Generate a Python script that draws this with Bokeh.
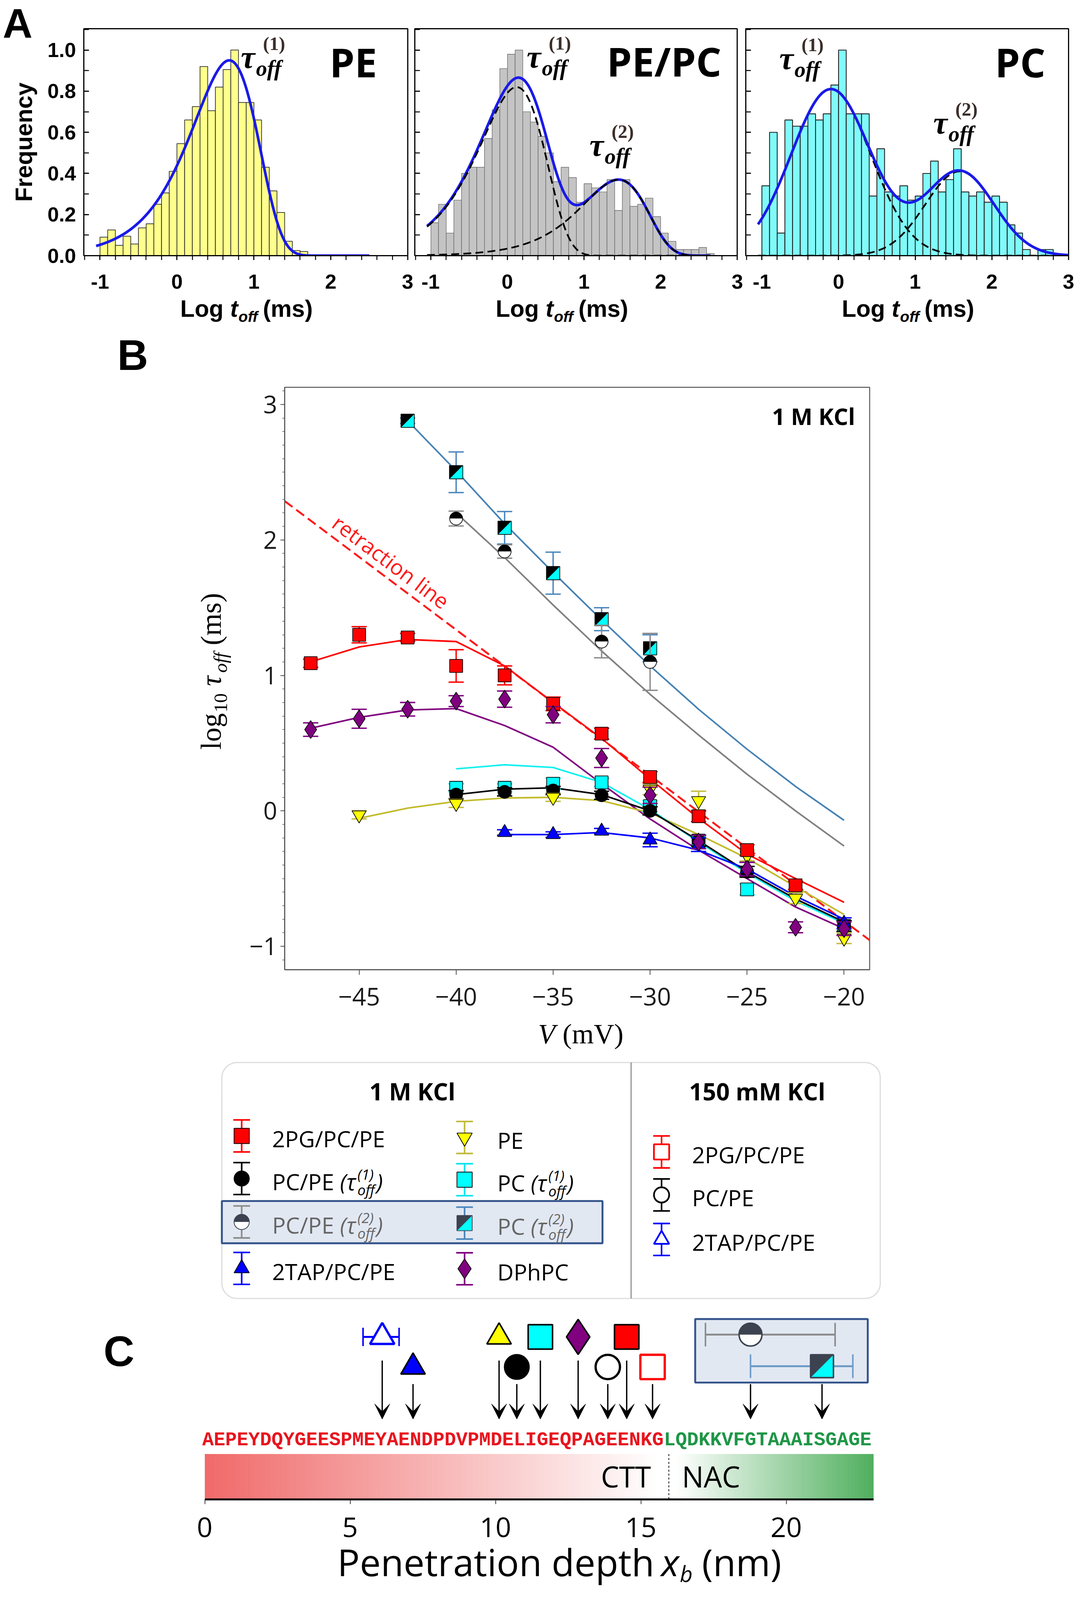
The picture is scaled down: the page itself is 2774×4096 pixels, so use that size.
import numpy as np
from bokeh.plotting import figure
from bokeh.layouts import column, row
from bokeh.models import (Range1d, SingleIntervalTicker, FixedTicker, Label, BoxAnnotation,
                          Arrow, VeeHead, NumeralTickFormatter, ColumnDataSource)
from bokeh.embed import file_html
from bokeh.resources import INLINE

S = 0.975
OFF = 8.0 / S
REF_W, REF_H = 2844.0, 4200.0

# ======================= DATA =======================
# ---- Panel A: normalised histograms, bins of 0.1 starting at -1.0 ----
hist_start = -1.0
hist_width = 0.1
pe_freq = [0.09, 0.125, 0.05, 0.095, 0.057, 0.135, 0.155, 0.25, 0.305, 0.41,
           0.545, 0.66, 0.725, 0.92, 0.705, 0.82, 0.905, 1.0, 0.745, 0.745,
           0.66, 0.43, 0.315, 0.21, 0.07, 0.025, 0.02]
pepc_freq = [0.16, 0.25, 0.11, 0.27, 0.40, 0.43, 0.43, 0.57, 0.71, 0.91,
             0.98, 1.00, 0.70, 0.65, 0.58, 0.50, 0.36, 0.43, 0.38, 0.26,
             0.35, 0.33, 0.31, 0.37, 0.22, 0.37, 0.24, 0.25, 0.28, 0.19,
             0.11, 0.07, 0.03, 0.03, 0.03, 0.04, 0.01]
pc_freq = [0.34, 0.60, 0.11, 0.66, 0.63, 0.63, 0.69, 0.66, 0.69, 0.83,
           1.00, 0.69, 0.69, 0.69, 0.29, 0.52, 0.31, 0.29, 0.34, 0.27,
           0.29, 0.40, 0.46, 0.31, 0.37, 0.52, 0.31, 0.29, 0.31, 0.26,
           0.29, 0.26, 0.15, 0.11, 0.03, 0.0, 0.03, 0.03]
# fitted components: (shape, centre, amplitude, width)
pe_fit = [("logexp", 0.68, 0.95, 0.0)]
pepc_fit = [("logexp", 0.12, 0.82, 0.0), ("logexp", 1.45, 0.37, 0.0)]
pc_fit = [("gauss", -0.10, 0.81, 0.52), ("gauss", 1.58, 0.41, 0.45)]
pe_span, pepc_span, pc_span = (-1.05, 2.5), (-1.05, 2.65), (-1.05, 3.0)
a_xticks = [-1, 0, 1, 2, 3]

# ---- Panel B: log10 tau_off vs V ----
pg_v = [-47.5, -45, -42.5, -40, -37.5, -35, -32.5, -30, -27.5, -25, -22.5]
pg_y = [1.09, 1.30, 1.28, 1.07, 1.00, 0.79, 0.57, 0.25, -0.04, -0.29, -0.55]
pg_e = [0.03, 0.06, 0.03, 0.12, 0.07, 0.05, 0.04, 0.04, 0.04, 0.04, 0.03]
dph_v = [-47.5, -45, -42.5, -40, -37.5, -35, -32.5, -30, -27.5, -25, -22.5, -20]
dph_y = [0.60, 0.68, 0.75, 0.81, 0.825, 0.71, 0.39, 0.115, -0.23, -0.43, -0.86, -0.87]
dph_e = [0.05, 0.07, 0.05, 0.04, 0.06, 0.06, 0.07, 0.06, 0.05, 0.05, 0.04, 0.05]
pe_v = [-45, -40, -35, -30, -27.5, -25, -22.5, -20]
pe_y = [-0.03, 0.055, 0.10, 0.16, 0.075, -0.33, -0.645, -0.94]
pe_e = [0.03, 0.03, 0.03, 0.04, 0.07, 0.04, 0.04, 0.04]
pc1_v = [-40, -37.5, -35, -32.5, -30, -27.5, -25, -20]
pc1_y = [0.17, 0.17, 0.20, 0.21, 0.035, -0.22, -0.58, -0.85]
pc1_e = [0.03, 0.03, 0.04, 0.03, 0.04, 0.04, 0.04, 0.04]
pcpe1_v = [-40, -37.5, -35, -32.5, -30, -27.5, -25, -20]
pcpe1_y = [0.12, 0.14, 0.15, 0.115, 0.0, -0.22, -0.45, -0.85]
pcpe1_e = [0.03, 0.03, 0.03, 0.03, 0.03, 0.04, 0.04, 0.04]
tap_v = [-37.5, -35, -32.5, -30, -27.5, -25, -20]
tap_y = [-0.16, -0.175, -0.15, -0.215, -0.25, -0.43, -0.83]
tap_e = [0.02, 0.02, 0.02, 0.05, 0.05, 0.05, 0.04]
pc2_v = [-42.5, -40, -37.5, -35, -32.5, -30]
pc2_y = [2.88, 2.50, 2.09, 1.755, 1.415, 1.20]
pc2_e = [0.02, 0.15, 0.12, 0.155, 0.085, 0.10]
pcpe2_v = [-40, -37.5, -32.5, -30]
pcpe2_y = [2.158, 1.915, 1.25, 1.10]
pcpe2_e = [0.055, 0.05, 0.12, 0.21]
# fit curves
fit_pg_v = [-47.5, -45, -42.5, -40, -37.5, -35, -32.5, -30, -27.5, -25, -22.5, -20]
fit_pg_y = [1.10, 1.21, 1.265, 1.25, 1.07, 0.80, 0.535, 0.235, -0.055, -0.32, -0.50, -0.675]
fit_dph_v = [-47.5, -45, -42.5, -40, -37.5, -35, -32.5, -30, -27.5, -25, -22.5, -20]
fit_dph_y = [0.61, 0.69, 0.745, 0.755, 0.63, 0.47, 0.20, -0.06, -0.29, -0.50, -0.71, -0.87]
fit_pc2_v = [-42.5, -40, -37.5, -35, -32.5, -30, -27.5, -25, -22.5, -20]
fit_pc2_y = [2.88, 2.51, 2.12, 1.76, 1.41, 1.07, 0.75, 0.455, 0.18, -0.07]
fit_pcpe2_v = [-40, -37.5, -35, -32.5, -30, -27.5, -25, -22.5, -20]
fit_pcpe2_y = [2.20, 1.87, 1.52, 1.18, 0.86, 0.56, 0.27, 0.0, -0.26]
fit_pc1_v = [-40, -37.5, -35, -32.5, -30, -27.5, -25, -22.5, -20]
fit_pc1_y = [0.31, 0.34, 0.32, 0.21, 0.01, -0.23, -0.46, -0.665, -0.83]
fit_pcpe1_v = [-40, -37.5, -35, -32.5, -30, -27.5, -25, -22.5, -20]
fit_pcpe1_y = [0.12, 0.16, 0.17, 0.12, 0.0, -0.22, -0.45, -0.65, -0.82]
fit_pe_v = [-45, -42.5, -40, -37.5, -35, -32.5, -30, -27.5, -25, -22.5, -20]
fit_pe_y = [-0.055, 0.02, 0.07, 0.095, 0.10, 0.075, -0.015, -0.175, -0.35, -0.56, -0.765]
fit_tap_v = [-37.5, -35, -32.5, -30, -27.5, -25, -22.5, -20]
fit_tap_y = [-0.175, -0.175, -0.16, -0.20, -0.29, -0.43, -0.63, -0.80]
retract_v = [-48.84, -18.68]
retract_y = [2.287, -0.955]
b_xticks = [-45, -40, -35, -30, -25, -20]
b_yticks = [-1, 0, 1, 2, 3]

# ---- Legend ----
leg1_kind = ["2pg", "pcpe1", "pcpe2", "tap", "pe", "pc1", "pc2", "dph"]
leg1_label = ["2PG/PC/PE", "PC/PE", "PC/PE", "2TAP/PC/PE", "PE", "PC", "PC", "DPhPC"]
leg1_tau = ["", "1", "2", "", "", "1", "2", ""]
leg2_kind = ["2pg150", "pcpe150", "tap150"]
leg2_label = ["2PG/PC/PE", "PC/PE", "2TAP/PC/PE"]

# ---- Panel C: penetration depth (nm) ----
c_kind = ["tap150", "tap", "peC", "pcpe1", "pc1", "dph", "pcpe150", "2pg", "2pg150", "pcpe2", "pc2"]
c_depth = [6.10, 7.16, 10.12, 10.73, 11.54, 12.84, 13.86, 14.51, 15.40, 18.77, 21.23]
c_row = ["up", "low", "up", "low", "up", "up", "low", "up", "low", "box1", "box2"]
c_err_kind = ["tap150", "pcpe2", "pc2"]
c_err_lo = [5.44, 17.22, 18.77]
c_err_hi = [6.68, 21.68, 22.29]
seq_ctt = "AEPEYDQYGEESPMEYAENDPDVPMDELIGEQPAGEENKG"
seq_nac = "LQDKKVFGTAAAISGAGE"
domain_boundary = 15.96
c_ticks = [0, 5, 10, 15, 20]


# ======================= HELPERS =======================
def px(v):
    return int(round(v * S))


def fsz(v):
    return f"{v * S:.1f}px"


class Fr:
    def __init__(self, l, r, t, b, x0, x1, y0, y1):
        self.l, self.r, self.t, self.b = l, r, t, b
        self.x0, self.x1, self.y0, self.y1 = x0, x1, y0, y1
        self.kx = (x1 - x0) / (r - l)
        self.ky = (y1 - y0) / (b - t)

    def x(self, xr):
        return self.x0 + (xr - self.l) * self.kx

    def y(self, yr):
        return self.y0 + (self.b - yr) * self.ky


def make_fig(cx0, cx1, cy0, cy1, F):
    p = figure(width=px(cx1) - px(cx0), height=px(cy1) - px(cy0),
               x_range=Range1d(F.x0, F.x1), y_range=Range1d(F.y0, F.y1),
               output_backend="svg", toolbar_location=None, tools="",
               min_border_left=px(F.l) - px(cx0), min_border_right=px(cx1) - px(F.r),
               min_border_top=px(F.t) - px(cy0), min_border_bottom=px(cy1) - px(F.b))
    p.xgrid.visible = False
    p.ygrid.visible = False
    p.background_fill_color = "white"
    p.border_fill_color = "white"
    return p


def text_fig(cx0, cx1, cy0, cy1, xmap=None):
    if xmap is None:
        F = Fr(cx0, cx1, cy0, cy1, cx0, cx1, -cy1, -cy0)
    else:
        F = Fr(cx0, cx1, cy0, cy1, xmap.x(cx0), xmap.x(cx1), -cy1, -cy0)
    p = make_fig(cx0, cx1, cy0, cy1, F)
    p.xaxis.visible = False
    p.yaxis.visible = False
    p.outline_line_color = None
    return p, F


def lab(p, F, xr, yr, text, size, font="Liberation Sans", style="normal", color="black",
        align="left", baseline="alphabetic", angle=0.0):
    # positions given on the text baseline are converted to the text middle
    if baseline == "alphabetic":
        k = 0.345 * size
        xr = xr - np.sin(angle) * k
        yr = yr - np.cos(angle) * k
        baseline = "middle"
    p.add_layout(Label(x=F.x(xr), y=F.y(yr), text=text, text_font=font,
                       text_font_size=fsz(size), text_font_style=style, text_color=color,
                       text_align=align, text_baseline=baseline, angle=angle))


def tick_labels(p, F, ticks, texts, yc, size, font, style="normal", color="black"):
    # tick labels placed on the figure's own x scale
    for t, s in zip(ticks, texts):
        p.add_layout(Label(x=t, y=F.y(yc), text=s, text_font=font, text_font_size=fsz(size),
                           text_font_style=style, text_align="center",
                           text_baseline="middle", text_color=color))


def hide_tick_labels(ax):
    ax.major_label_text_color = None
    ax.major_label_text_font_size = "1px"
    ax.major_label_standoff = 0


def component(x, kind, c, a, w):
    if kind == "logexp":
        r = 10.0 ** (x - c)
        return a * r * np.exp(1.0 - r)
    return a * np.exp(-0.5 * ((x - c) / w) ** 2)


STY = {
    "2pg": dict(marker="square", fill="#ff0000", line="black", err="#ff0000"),
    "pcpe1": dict(marker="circle", fill="black", line="black", err="black"),
    "pcpe2": dict(marker="halfcircle", fill="black", line="black", err="#8c8c8c"),
    "tap": dict(marker="triangle", fill="#0000ff", line="black", err="#0000ff"),
    "pe": dict(marker="inverted_triangle", fill="#ffff00", line="black", err="#c2bb3a"),
    "peC": dict(marker="triangle", fill="#ffff00", line="black", err="#c2bb3a"),
    "pc1": dict(marker="square", fill="#00ffff", line="black", err="#00e5f0"),
    "pc2": dict(marker="halfsquare", fill="black", line="black", err="#4a86bd"),
    "dph": dict(marker="diamond", fill="#800080", line="black", err="#800080"),
    "2pg150": dict(marker="square", fill="white", line="#ff0000", err="#ff0000"),
    "pcpe150": dict(marker="circle", fill="white", line="black", err="black"),
    "tap150": dict(marker="triangle", fill="white", line="#0000ff", err="#0000ff"),
}


def draw_mark(p, kind, xs, ys, size, kx, ky, lw=2.0, dark="black"):
    st = STY[kind]
    xs = np.asarray(xs, float)
    ys = np.asarray(ys, float)
    m = st["marker"]
    if m == "halfcircle":
        r = size / 2.0 * S
        p.wedge(x=xs, y=ys, radius=r, radius_units="screen", start_angle=0, end_angle=np.pi,
                fill_color=dark, line_color=None)
        p.wedge(x=xs, y=ys, radius=r, radius_units="screen", start_angle=np.pi,
                end_angle=2 * np.pi, fill_color="white", line_color=None)
        p.scatter(xs, ys, marker="circle", size=size * S, fill_color=None,
                  line_color=dark, line_width=lw * S)
    elif m == "halfsquare":
        h = size / 2.0
        dx, dy = h * kx, h * ky
        sqx = [[x - dx, x + dx, x + dx, x - dx] for x in xs]
        sqy = [[y - dy, y - dy, y + dy, y + dy] for y in ys]
        trx = [[x - dx, x - dx, x + dx] for x in xs]
        try_ = [[y - dy, y + dy, y + dy] for y in ys]
        p.patches(sqx, sqy, fill_color="#00ffff", line_color=None)
        p.patches(trx, try_, fill_color=dark, line_color=None)
        p.patches(sqx, sqy, fill_color=None, line_color=dark, line_width=lw * S)
    else:
        p.scatter(xs, ys, marker=m, size=size * S, fill_color=st["fill"],
                  line_color=st["line"], line_width=lw * S)


def vbars(p, xs, ys, es, color, cap, lw):
    xs = np.asarray(xs, float)
    ys = np.asarray(ys, float)
    es = np.asarray(es, float)
    p.segment(xs, ys - es, xs, ys + es, line_color=color, line_width=lw * S)
    p.scatter(np.concatenate([xs, xs]), np.concatenate([ys - es, ys + es]), marker="dash",
              size=cap * S, line_color=color, line_width=lw * S)


# ======================= PANEL A =======================
A_TOP_BOTTOM = 714
AB_SPLIT = 868
A_LEFT = 116


def hist_panel(cx0, cx1, fl, frr, freq, fill, edge, edge_w, fits, span, show_y, dash_top):
    F = Fr(fl, frr, 83, 679, -1.21, 3.0, 0.0, 1.104)
    p = make_fig(cx0, cx1, OFF, A_TOP_BOTTOM, F)
    lefts = hist_start + hist_width * np.arange(len(freq))
    p.quad(left=lefts, right=lefts + hist_width, bottom=0, top=freq, fill_color=fill,
           line_color=edge, line_width=edge_w * S)
    xs = np.linspace(span[0], span[1], 600)
    comps = [component(xs, *f) for f in fits]
    total = np.sum(comps, axis=0)

    def dashed():
        if len(comps) > 1:
            for c in comps:
                p.line(xs, c, line_color="black", line_width=4.5 * S, line_dash="20 11")
    if not dash_top:
        dashed()
    p.line(xs, total, line_color="#1a1ae8", line_width=7 * S, line_join="round")
    if dash_top:
        dashed()
    p.xaxis.ticker = SingleIntervalTicker(interval=1, num_minor_ticks=5)
    p.yaxis.ticker = SingleIntervalTicker(interval=0.2, num_minor_ticks=2)
    p.yaxis.formatter = NumeralTickFormatter(format="0.0")
    for axes in (p.xaxis, p.yaxis):
        axes.axis_line_color = "black"
        axes.axis_line_width = 3 * S
        axes.major_tick_line_color = "black"
        axes.minor_tick_line_color = "black"
        axes.major_tick_line_width = 2.5 * S
        axes.minor_tick_line_width = 2.5 * S
        axes.major_label_text_font = "Liberation Sans"
        axes.major_label_text_font_style = "bold"
        axes.major_label_text_font_size = fsz(54)
        axes.major_label_text_color = "black"
    p.xaxis.major_tick_in = 0
    p.xaxis.major_tick_out = px(11)
    p.xaxis.minor_tick_in = 0
    p.xaxis.minor_tick_out = px(11)
    hide_tick_labels(p.xaxis[0])
    p.yaxis.major_tick_in = px(13)
    p.yaxis.major_tick_out = 0
    p.yaxis.minor_tick_in = px(13)
    p.yaxis.minor_tick_out = 0
    p.yaxis.major_label_standoff = px(20)
    if not show_y:
        hide_tick_labels(p.yaxis[0])
    p.outline_line_color = "black"
    p.outline_line_width = 3 * S
    return p, F


def a_xlabel(p, F, xc):
    x0 = xc - 175
    yb = 840
    lab(p, F, x0, yb, "Log", 62, "Liberation Sans", "bold")
    lab(p, F, x0 + 131, yb, "t", 62, "Liberation Sans", "bold italic")
    lab(p, F, x0 + 153, yb + 13, "off", 40, "Liberation Sans", "bold italic")
    lab(p, F, x0 + 217, yb, "(ms)", 62, "Liberation Sans", "bold")


def tau_label(p, F, xl, yb, sup):
    lab(p, F, xl, yb, "τ", 84, "Liberation Serif", "bold italic")
    lab(p, F, xl + 58, yb - 47, "(" + sup + ")", 50, "Liberation Serif", "bold", color="#3b2e29")
    lab(p, F, xl + 40, yb + 20, "off", 58, "Liberation Serif", "bold italic")


pAL, FAL = text_fig(OFF, A_LEFT, OFF, AB_SPLIT)
pA1, FA1 = hist_panel(A_LEFT, 1092, 228, 1078, pe_freq, "#ffff8c", "#2b2b2b", 1.8, pe_fit, pe_span, True, True)
pA2, FA2 = hist_panel(1092, 1956, 1096, 1943, pepc_freq, "#c4c4c4", "#6a6a6a", 1.4, pepc_fit, pepc_span, False, True)
pA3, FA3 = hist_panel(1956, REF_W - OFF, 1965, 2812, pc_freq, "#80fafa", "#1f1f1f", 2.2, pc_fit, pc_span, False, False)
pS1, FS1 = text_fig(A_LEFT, 1102, A_TOP_BOTTOM, AB_SPLIT, FA1)
pS2, FS2 = text_fig(1102, 1962, A_TOP_BOTTOM, AB_SPLIT, FA2)
pS3, FS3 = text_fig(1962, REF_W - OFF, A_TOP_BOTTOM, AB_SPLIT, FA3)
for pS, FS, xc in ((pS1, FS1, 656), (pS2, FS2, 1484), (pS3, FS3, 2392)):
    tick_labels(pS, FS, a_xticks, [str(t) for t in a_xticks], 747, 54, "Liberation Sans", "bold")
    a_xlabel(pS, FS, xc)

lab(pAL, FAL, 54, 70, "A", 108, "Liberation Sans", "bold", align="center", baseline="middle")
lab(pAL, FAL, 70, 381, "Frequency", 62, "Liberation Sans", "bold", align="center",
    baseline="middle", angle=np.pi / 2)
lab(pA1, FA1, 935, 170, "PE", 105, "Open Sans", "bold", align="center", baseline="middle")
lab(pA2, FA2, 1751, 168, "PE/PC", 105, "Open Sans", "bold", align="center", baseline="middle")
lab(pA3, FA3, 2685, 170, "PC", 105, "Open Sans", "bold", align="center", baseline="middle")
tau_label(pA1, FA1, 640, 187, "1")
tau_label(pA2, FA2, 1390, 186, "1")
tau_label(pA2, FA2, 1555, 418, "2")
tau_label(pA3, FA3, 2053, 190, "1")
tau_label(pA3, FA3, 2457, 359, "2")

# ======================= PANEL B =======================
B_TOP_BOTTOM = 2572
FB = Fr(755, 2290, 1025, 2554, -48.84, -18.68, -1.173, 3.127)
pB = make_fig(640, REF_W - OFF, AB_SPLIT, B_TOP_BOTTOM, FB)
pBL, FBL = text_fig(OFF, 640, AB_SPLIT, B_TOP_BOTTOM)
pBS, FBS = text_fig(OFF, REF_W - OFF, B_TOP_BOTTOM, 2775, FB)
LW = 4.2
pB.line(fit_pc2_v, fit_pc2_y, line_color="#4682b4", line_width=LW * S, line_join="round")
pB.line(fit_pcpe2_v, fit_pcpe2_y, line_color="#808080", line_width=LW * S, line_join="round")
pB.line(retract_v, retract_y, line_color="#ff1a1a", line_width=5 * S, line_dash="25 12")
pB.line(fit_dph_v, fit_dph_y, line_color="#800080", line_width=LW * S, line_join="round")
pB.line(fit_pe_v, fit_pe_y, line_color="#c2bb2a", line_width=LW * S, line_join="round")
pB.line(fit_pc1_v, fit_pc1_y, line_color="#14f0f0", line_width=LW * S, line_join="round")
pB.line(fit_pcpe1_v, fit_pcpe1_y, line_color="black", line_width=LW * S, line_join="round")
pB.line(fit_tap_v, fit_tap_y, line_color="#0000ff", line_width=LW * S, line_join="round")
pB.line(fit_pg_v, fit_pg_y, line_color="#ff0000", line_width=LW * S, line_join="round")

CAP, ELW = 40, 3.6
series_b = [("pc2", pc2_v, pc2_y, pc2_e), ("pcpe2", pcpe2_v, pcpe2_y, pcpe2_e),
            ("pc1", pc1_v, pc1_y, pc1_e), ("pcpe1", pcpe1_v, pcpe1_y, pcpe1_e),
            ("pe", pe_v, pe_y, pe_e), ("tap", tap_v, tap_y, tap_e),
            ("2pg", pg_v, pg_y, pg_e), ("dph", dph_v, dph_y, dph_e)]
bsize = {"pc2": 35, "pcpe2": 34, "pc1": 34, "pcpe1": 34, "pe": 37, "tap": 37, "2pg": 34, "dph": 47}
for kind, v, y, e in series_b:
    vbars(pB, v, y, e, STY[kind]["err"], CAP, ELW)
    draw_mark(pB, kind, v, y, bsize[kind], FB.kx, FB.ky, lw=1.8)

pB.xaxis.ticker = FixedTicker(ticks=b_xticks)
pB.yaxis.ticker = FixedTicker(ticks=b_yticks,
                              minor_ticks=[round(-1.1 + 0.1 * i, 2) for i in range(43)])
pB.yaxis.major_label_overrides = {t: ("\u2212" + str(abs(t)) if t < 0 else str(t)) for t in b_yticks}
for axes in (pB.xaxis, pB.yaxis):
    axes.axis_line_color = "#555555"
    axes.axis_line_width = 2.5 * S
    axes.major_tick_line_color = "#555555"
    axes.minor_tick_line_color = "#555555"
    axes.major_tick_line_width = 2.2 * S
    axes.minor_tick_line_width = 1.6 * S
    axes.major_tick_in = 0
    axes.minor_tick_in = 0
    axes.major_label_text_font = "Open Sans"
    axes.major_label_text_font_size = fsz(64)
    axes.major_label_text_color = "#1a1a1a"
pB.xaxis.major_tick_out = px(13)
hide_tick_labels(pB.xaxis[0])
pB.yaxis.major_tick_out = px(11)
pB.yaxis.minor_tick_out = px(6)
pB.yaxis.major_label_standoff = px(8)
pB.outline_line_color = "#555555"
pB.outline_line_width = 2.5 * S
tick_labels(pBS, FBS, b_xticks, ["\u2212" + str(abs(t)) for t in b_xticks], 2624, 64,
            "Open Sans", color="#1a1a1a")

ang = np.arctan2((retract_y[1] - retract_y[0]) / FB.ky, (retract_v[1] - retract_v[0]) / FB.kx)
lab(pB, FB, 1034, 1483, "retraction line", 56, "Open Sans", "normal", "#ff1a1a",
    align="center", baseline="middle", angle=ang)
lab(pB, FB, 2252, 1100, "1 M KCl", 60, "Open Sans", "bold", align="right", baseline="middle")
lab(pBL, FBL, 356, 940, "B", 112, "Liberation Sans", "bold", align="center", baseline="middle")
# x label: V (mV)
lab(pBS, FBS, 1420, 2748, "V", 74, "Liberation Serif", "italic")
lab(pBS, FBS, 1484, 2748, "(mV)", 74, "Liberation Serif")
# y label: log10 tau_off (ms), rotated
ybx, ysub = 588, 604
y_start = 1976
lab(pBL, FBL, ybx, y_start, "log", 75, "Liberation Serif", angle=np.pi / 2)
lab(pBL, FBL, ysub, y_start - 98, "10", 50, "Liberation Serif", angle=np.pi / 2)
lab(pBL, FBL, ybx, y_start - 167, "τ", 75, "Liberation Serif", "italic", angle=np.pi / 2)
lab(pBL, FBL, ysub, y_start - 202, "off", 50, "Liberation Serif", "italic", angle=np.pi / 2)
lab(pBL, FBL, ybx, y_start - 274, "(ms)", 75, "Liberation Serif", angle=np.pi / 2)

# ======================= LEGEND =======================
FL = Fr(OFF, REF_W - OFF, 2775, 3440, OFF, REF_W - OFF, 0.0, 665.0)
pL = make_fig(OFF, REF_W - OFF, 2775, 3440, FL)
pL.xaxis.visible = False
pL.yaxis.visible = False
pL.outline_line_color = None
pL.quad(left=[590], right=[1589], top=[FL.y(3161)], bottom=[FL.y(3272)],
        fill_color="#e2e8f2", line_color="#34548c", line_width=5 * S)
pL.add_layout(BoxAnnotation(left=590, right=2318, top=FL.y(2797), bottom=FL.y(3417),
                            fill_color=None, fill_alpha=0, line_color="#8c8c8c",
                            line_width=3 * S, border_radius=px(40), level="underlay"))
pL.segment([1664], [FL.y(2797)], [1664], [FL.y(3417)], line_color="#707070", line_width=2.2 * S)
lab(pL, FL, 1090, 2873, "1 M KCl", 62, "Open Sans", "bold", align="center", baseline="middle")
lab(pL, FL, 1995, 2873, "150 mM KCl", 62, "Open Sans", "bold", align="center", baseline="middle")

OW = {"P": 602, "C": 631, "/": 371, "E": 556}


def legend_entry(kind, mx, tx, yc, text, tau):
    y = FL.y(yc)
    color = "#666666" if tau == "2" else "black"
    vbars(pL, [mx], [y], [42], STY[kind]["err"], 44, 4.2)
    size = 52 if kind == "dph" else 40
    lwid = 4.5 if kind.endswith("150") else 2.0
    draw_mark(pL, kind, [mx], [y], size, 1.0, 1.0, lw=lwid,
              dark="#3c4250" if tau == "2" else "black")
    yb = yc + 28
    lab(pL, FL, tx, yb, text, 59, "Open Sans", "normal", color)
    if tau:
        w0 = sum(OW[ch] for ch in text) * 0.059 + 15
        xx = tx + w0
        lab(pL, FL, xx, yb, "(τ", 59, "Open Sans", "italic", color)
        lab(pL, FL, xx + 46, yb - 27, "(" + tau + ")", 38, "Open Sans", "italic", color)
        lab(pL, FL, xx + 46, yb + 14, "off", 38, "Open Sans", "italic", color)
        lab(pL, FL, xx + 96, yb, ")", 59, "Open Sans", "italic", color)


col_pos = [(642, 722, [2990, 3102, 3216, 3338]), (1227, 1313, [2994, 3105, 3219, 3339])]
for i in range(8):
    mx, tx, rows = col_pos[i // 4]
    legend_entry(leg1_kind[i], mx, tx, rows[i % 4], leg1_label[i], leg1_tau[i])
for i, yc in enumerate([3032, 3145, 3262]):
    legend_entry(leg2_kind[i], 1744, 1824, yc, leg2_label[i], "")

# ======================= PANEL C =======================
C_TOP_BOTTOM = 3960
FC = Fr(500, 2330, 3440, 3945, (500 - 545) / 76.3, 23.0 + 30 / 76.3, 0.0, 505.0)
pC = make_fig(480, REF_W - OFF, 3440, C_TOP_BOTTOM, FC)
pCL, FCL = text_fig(OFF, 480, 3440, C_TOP_BOTTOM)
pCS, FCS = text_fig(OFF, REF_W - OFF, C_TOP_BOTTOM, REF_H - OFF, FC)
pC.yaxis.visible = False
pC.outline_line_color = None

gx = np.linspace(0.0, 23.0, 461)
gmid = 0.5 * (gx[:-1] + gx[1:])
gcols = []
for m in gmid:
    if m < domain_boundary:
        t = min(m / 15.6, 1.0)
        c = np.array([240, 104, 104]) * (1 - t) + np.array([255, 255, 255]) * t
    else:
        t = np.clip((m - 16.2) / (23.0 - 16.2), 0, 1)
        c = np.array([255, 255, 255]) * (1 - t) + np.array([78, 174, 92]) * t
    gcols.append("#%02x%02x%02x" % tuple(int(round(v)) for v in c))
pC.quad(left=gx[:-1], right=gx[1:], bottom=FC.y(3944), top=FC.y(3826), fill_color=gcols,
        line_color=gcols, line_width=0.5)
pC.segment([domain_boundary], [FC.y(3944)], [domain_boundary], [FC.y(3826)],
           line_color="black", line_width=2 * S, line_dash="5 5")
lab(pC, FC, 1716, 3884, "CTT", 76, "Open Sans", align="right", baseline="middle")
lab(pC, FC, 1797, 3884, "NAC", 76, "Open Sans", align="left", baseline="middle")

pC.quad(left=[FC.x(1832)], right=[FC.x(2285)], top=[FC.y(3471)], bottom=[FC.y(3638)],
        fill_color="#e2e8f2", line_color="#34548c", line_width=5 * S)

row_y = {"up": 3518, "low": 3597, "box1": 3512, "box2": 3595}
arrow_start = {"up": 3580, "low": 3642, "box1": 3642, "box2": 3642}

for k, lo, hi in zip(c_err_kind, c_err_lo, c_err_hi):
    yy = FC.y(row_y[c_row[c_kind.index(k)]])
    col = {"tap150": "#0000ff", "pcpe2": "#8a8a8a", "pc2": "#6c9bc8"}[k]
    capz = 48 if k == "tap150" else 62
    pC.segment([lo], [yy], [hi], [yy], line_color=col, line_width=5 * S)
    pC.scatter([lo, hi], [yy, yy], marker="dash", angle=np.pi / 2, size=capz * S,
               line_color=col, line_width=4 * S)

src = ColumnDataSource(dict(x0=c_depth, x1=c_depth,
                            y0=[FC.y(arrow_start[r]) for r in c_row],
                            y1=[FC.y(3734)] * len(c_depth)))
pC.add_layout(Arrow(end=VeeHead(size=px(40), fill_color="black", line_color="black"),
                    x_start="x0", y_start="y0", x_end="x1", y_end="y1", source=src,
                    line_color="black", line_width=3.5 * S))

for k, d, r in zip(c_kind, c_depth, c_row):
    yy = FC.y(row_y[r])
    size = 92 if k == "dph" else (60 if r.startswith("box") else 64)
    lwid = 6 if k.endswith("150") else 4
    draw_mark(pC, k, [d], [yy], size, FC.kx, 1.0, lw=lwid,
              dark="#3c4250" if r.startswith("box") else "black")

lab(pC, FC, 538, 3790, seq_ctt, 50.5, "Liberation Mono", "bold", "#e8141e", baseline="middle")
lab(pC, FC, 1750, 3790, seq_nac, 50.5, "Liberation Mono", "bold", "#1e9646", baseline="middle")

pC.xaxis.ticker = FixedTicker(ticks=c_ticks)
pC.xaxis.bounds = (0, 23)
pC.xaxis.axis_line_color = "black"
pC.xaxis.axis_line_width = 5 * S
pC.xaxis.major_tick_line_color = "#333333"
pC.xaxis.major_tick_line_width = 2 * S
pC.xaxis.major_tick_in = 0
pC.xaxis.major_tick_out = px(12)
pC.xaxis.minor_tick_line_color = None
hide_tick_labels(pC.xaxis[0])
tick_labels(pCS, FCS, c_ticks, [str(t) for t in c_ticks], 4018, 72, "Open Sans")
lab(pCL, FCL, 320, 3555, "C", 112, "Liberation Sans", "bold", align="center", baseline="middle")
x0 = 893
lab(pCS, FCS, x0, 4142, "Penetration depth", 98, "Open Sans")
lab(pCS, FCS, x0 + 850, 4142, "x", 98, "Open Sans", "italic")
lab(pCS, FCS, x0 + 899, 4160, "b", 58, "Open Sans", "italic")
lab(pCS, FCS, x0 + 957, 4142, "(nm)", 98, "Open Sans")

layout = column(
    row(row(pAL), column(row(pA1, pA2, pA3), row(pS1, pS2, pS3))),
    row(row(pBL), pB), row(pBS),
    row(pL),
    row(row(pCL), pC), row(pCS))
open("out.html", "w").write(file_html(layout, INLINE))
